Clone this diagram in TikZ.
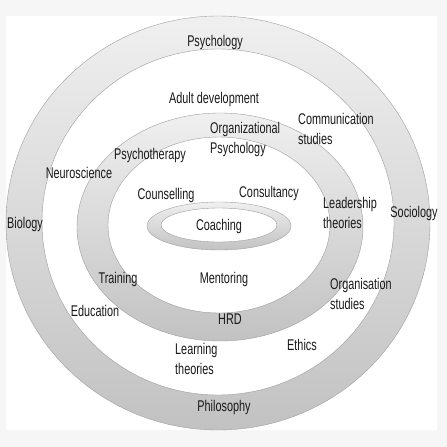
\documentclass[tikz,border=0pt]{standalone}
\usepackage{fontspec}
\setmainfont{Liberation Sans}[FakeStretch=0.7]
\usepackage{tikz}
\usetikzlibrary{positioning}

\begin{document}
\begin{tikzpicture}[x=1pt, y=-1pt, thin]
    % Define styles locally
    \tikzstyle{field} = [font=\fontsize{15.5}{20}\selectfont, inner sep=0pt, text=black!90]
    \tikzstyle{twoline} = [field, align=left, anchor=west]
    \tikzstyle{ring} = [draw=gray!75, even odd rule, top color=gray!12, bottom color=gray!48]

    % Frame
    \fill[gray!7] (0,0) rectangle (447,447);
    \fill[white] (6,16) rectangle (437,430);
    \useasboundingbox (0,0) rectangle (447,447);

    % Rings
    \path[ring] (218,223) ellipse [x radius=212, y radius=207]
                (218,222) ellipse [x radius=176, y radius=173];
    \path[ring] (220,227) ellipse [x radius=143, y radius=114]
                (219,225) ellipse [x radius=111, y radius=88];
    \path[ring] (219,226) ellipse [x radius=72, y radius=24]
                (219,225) ellipse [x radius=58, y radius=17];

    % Outer ring
    \node[field] (psychology) at (215,42) {Psychology};
    \node[field] (biology) at (25,224) {Biology};
    \node[field] (sociology) at (414,213) {Sociology};
    \node[field] (philosophy) at (224,407) {Philosophy};

    % Between outer and middle ring
    \node[field] (adultdev) at (214,99) {Adult development};
    \node[twoline] (communication) at (298,129) {Communication\\studies};
    \node[field] (neuroscience) at (79,173) {Neuroscience};
    \node[twoline] (leadership) at (323,213) {Leadership\\theories};
    \node[twoline] (organisation) at (330,294) {Organisation\\studies};
    \node[field] (education) at (95,311) {Education};
    \node[field] (ethics) at (302,345) {Ethics};
    \node[twoline] (learning) at (175,359) {Learning\\theories};

    % Middle ring
    \node[twoline] (orgpsych) at (210,139) {Organizational\\Psychology};
    \node[field] (psychotherapy) at (150,155) {Psychotherapy};
    \node[field] (training) at (118,279) {Training};
    \node[field] (hrd) at (230,319) {HRD};

    % Inside middle ring
    \node[field] (counselling) at (166,195) {Counselling};
    \node[field] (consultancy) at (269,193) {Consultancy};
    \node[field] (mentoring) at (224,279) {Mentoring};

    % Core
    \node[field] (coaching) at (219,226) {Coaching};
\end{tikzpicture}
\end{document}
